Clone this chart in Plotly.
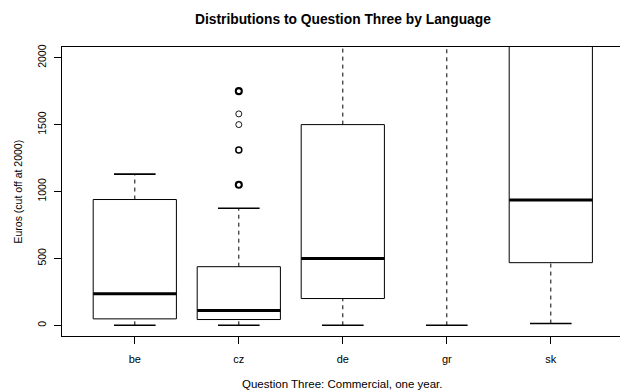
import plotly.graph_objects as go

# ---- data ----
languages = ["be", "cz", "de", "gr", "sk"]
lower_whisker = [0, 0, 0, 0, 13]
q1 = [48, 43, 200, 3000, 468]
median = [235, 110, 500, 6000, 937]
q3 = [940, 438, 1500, 10000, 3500]
upper_whisker = [1130, 875, 4000, 20000, 8000]

outlier_lang = ["cz", "cz", "cz", "cz", "cz"]
outlier_values = [1750, 1580, 1500, 1310, 1050]
outlier_counts = [3, 1, 1, 2, 3]

y_ticks = [0, 500, 1000, 1500, 2000]

title = "Distributions to Question Three by Language"
x_title = "Question Three: Commercial, one year."
y_title = "Euros (cut off at 2000)"

FONT = "Liberation Sans, Arial, Helvetica, sans-serif"
BOX_HALF = 0.4
CAP_HALF = 0.2

pos = {lang: i + 1 for i, lang in enumerate(languages)}

box_x, box_y = [], []
med_x, med_y = [], []
wh_x, wh_y = [], []
cap_x, cap_y = [], []
for lang, lw, a, m, b, uw in zip(languages, lower_whisker, q1, median, q3, upper_whisker):
    c = pos[lang]
    box_x += [c - BOX_HALF, c + BOX_HALF, c + BOX_HALF, c - BOX_HALF, c - BOX_HALF, None]
    box_y += [a, a, b, b, a, None]
    med_x += [c - BOX_HALF, c + BOX_HALF, None]
    med_y += [m, m, None]
    wh_x += [c, c, None, c, c, None]
    wh_y += [lw, a, None, b, uw, None]
    cap_x += [c - CAP_HALF, c + CAP_HALF, None, c - CAP_HALF, c + CAP_HALF, None]
    cap_y += [lw, lw, None, uw, uw, None]

fig = go.Figure()
fig.add_trace(go.Scatter(x=wh_x, y=wh_y, mode="lines",
                         line=dict(color="black", width=1, dash="4px,4px"),
                         hoverinfo="skip", showlegend=False))
fig.add_trace(go.Scatter(x=cap_x, y=cap_y, mode="lines",
                         line=dict(color="black", width=1.6),
                         hoverinfo="skip", showlegend=False))
fig.add_trace(go.Scatter(x=box_x, y=box_y, mode="lines",
                         line=dict(color="black", width=1),
                         hoverinfo="skip", showlegend=False))
fig.add_trace(go.Scatter(x=med_x, y=med_y, mode="lines",
                         line=dict(color="black", width=3),
                         hoverinfo="skip", showlegend=False))
fig.add_trace(go.Scatter(x=[pos[l] for l in outlier_lang], y=outlier_values, mode="markers",
                         marker=dict(symbol="circle-open", size=6, color="black",
                                     line=dict(color="black",
                                               width=[0.9 + 0.6 * (n - 1) for n in outlier_counts])),
                         hoverinfo="skip", showlegend=False, cliponaxis=True))

fig.update_layout(
    width=620, height=390,
    margin=dict(l=62, r=0, t=47, b=54, autoexpand=False),
    plot_bgcolor="white", paper_bgcolor="white",
    font=dict(family=FONT, size=11, color="black"),
    showlegend=False,
    xaxis=dict(range=[0.3, 0.3 + 558 / 104], tickvals=[pos[l] for l in languages],
               ticktext=languages, showgrid=False, zeroline=False,
               showline=True, mirror=True, linecolor="black", linewidth=1,
               ticks="outside", ticklen=7, tickcolor="black", tickwidth=1,
               tickfont=dict(size=11, family=FONT, color="black"), ticklabelstandoff=6),
    yaxis=dict(range=[-80, 2080], tickvals=y_ticks, showgrid=False, zeroline=False,
               showline=True, mirror=False, linecolor="black", linewidth=1,
               ticks="outside", ticklen=7, tickcolor="black", tickwidth=1,
               tickangle=-90, tickfont=dict(size=10.5, family=FONT, color="black"),
               ticklabelstandoff=4),
    annotations=[
        dict(text="<b>" + title + "</b>", x=3, xref="x", y=1, yref="paper", yshift=28,
             yanchor="middle", xanchor="center", showarrow=False,
             font=dict(size=13.8, family=FONT, color="black")),
        dict(text=x_title, x=3, xref="x", y=0, yref="paper", yshift=-48,
             yanchor="middle", xanchor="center", showarrow=False,
             font=dict(size=11.5, family=FONT, color="black")),
        dict(text=y_title, x=0, xref="paper", xshift=-45, y=0.5, yref="paper",
             textangle=-90, xanchor="center", yanchor="middle", showarrow=False,
             font=dict(size=10.5, family=FONT, color="black")),
    ],
)

fig.write_html("out.html", config={"displayModeBar": False},
               post_script="document.body.style.margin='0';document.body.style.overflow='hidden';")
